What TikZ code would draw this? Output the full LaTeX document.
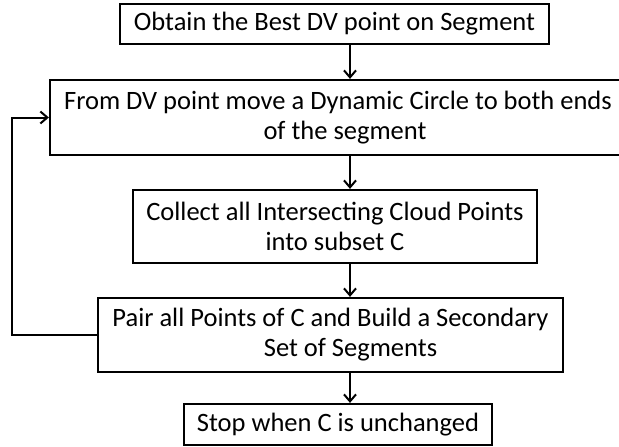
\documentclass[tikz,border=0pt]{standalone}
\usepackage{fontspec}
\setmainfont{Carlito}
\usetikzlibrary{arrows.meta, positioning}

\begin{document}
\begin{tikzpicture}[x=1pt, y=-1pt, >={Straight Barb[length=7pt, width=12pt]},
  box/.style={draw, line width=2.2pt, align=center, inner sep=2pt, font=\fontsize{26.5}{30}\selectfont},
  flow/.style={->, line width=2pt}]
\useasboundingbox (0,0) rectangle (619,447);
% Steps
\node[box, minimum width=429pt, minimum height=40pt] (obtain) at (334.5,24) {Obtain the Best DV point on Segment};
\node[box, minimum width=576pt, minimum height=75pt] (move) at (338,117.5) {From DV point move a Dynamic Circle to both ends\\\hspace*{14pt}of the segment};
\node[box, minimum width=404pt, minimum height=73pt] (collect) at (335,226.5) {Collect all Intersecting Cloud Points\\into subset C};
\node[box, minimum width=465pt, minimum height=74pt] (pair) at (330.5,335) {Pair all Points of C and Build a Secondary\\\hspace*{40pt}Set of Segments};
\node[box, minimum width=308pt, minimum height=41pt] (stop) at (338,424.5) {Stop when C is unchanged};
% Arrows down the middle
\coordinate (axis) at (350,0);
\draw[flow] (obtain.south -| axis) -- (move.north -| axis);
\draw[flow] (move.south -| axis) -- (collect.north -| axis);
\draw[flow] (collect.south -| axis) -- (pair.north -| axis);
\draw[flow] (pair.south -| axis) -- (stop.north -| axis);
% Loop back
\coordinate (back) at (12,0);
\draw[flow] (pair.west) -| (back |- move.west) -- (move.west);
\end{tikzpicture}
\end{document}
